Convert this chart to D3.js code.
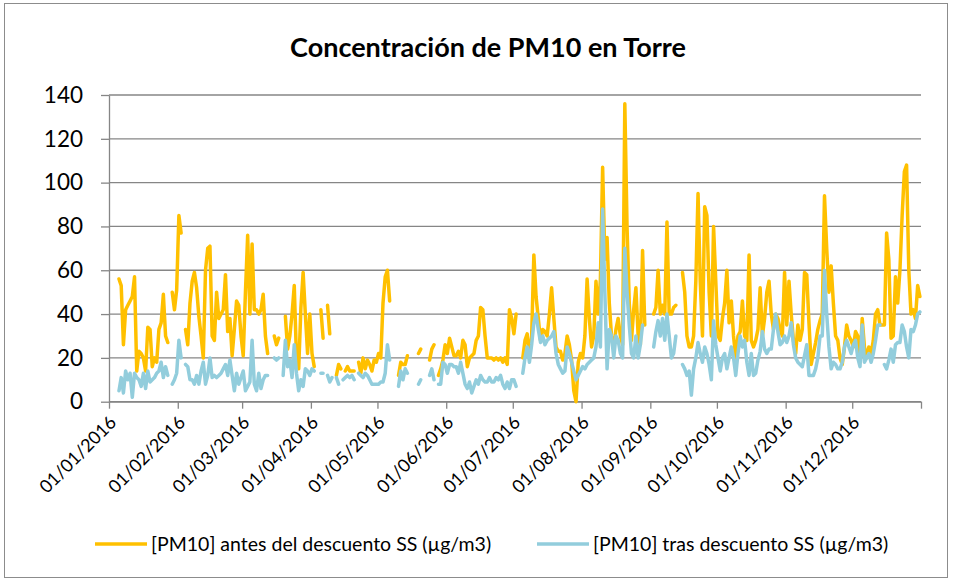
<!DOCTYPE html>
<html>
<head>
<meta charset="utf-8">
<script src="https://cdn.jsdelivr.net/npm/d3@7"></script>
<style>
  body { margin: 0; background: #fff; }
  svg { display: block; }
  text { font-family: Lato, "Open Sans", sans-serif; fill: #000; }
</style>
</head>
<body>
<svg id="chart" width="955" height="581"></svg>
<script>
// Daily PM10 concentration at Torre station, 2016 (µg/m3); null = no data that day
const chartTitle = "Concentración de PM10 en Torre";
const seriesNames = ["[PM10] antes del descuento SS (µg/m3)", "[PM10] tras descuento SS (µg/m3)"];
const seriesColors = ["#FFC000", "#92CDDC"];
const yTickValues = [0, 20, 40, 60, 80, 100, 120, 140];
const monthLabels = ["01/01/2016", "01/02/2016", "01/03/2016", "01/04/2016", "01/05/2016", "01/06/2016",
                     "01/07/2016", "01/08/2016", "01/09/2016", "01/10/2016", "01/11/2016", "01/12/2016"];

// [PM10] before the sea-salt discount
const pm10Antes = [
  // Jan
  null, null, null, null, 56, 53, 26, 42, 44, 46, 48, 57, 14, 23, 22, 20, 14, 34, 33, 16, 20, 18, 33, 36, 49, 30, 27, null, 50, 42, 51,
  // Feb
  85, 77, null, 33, 26, 45, 55, 59, 52, 39, 30, 20, 60, 70, 71, 30, 28, 50, 38, 40, 42, 58, 32, 38, 21, 33, 46, 44, 30,
  // Mar
  21, 50, 76, 40, 72, 42, 42, 40, 42, 49, 30, 22, null, null, 30, 26, 29, null, null, 39, 24, 30, 40, 53, 20, 15, 43, 59, 40, 22, 40,
  // Apr
  22, 16, null, null, 42, 29, null, 44, 31, null, null, 12, 17, 15, null, 14, 16, 14, 14, 14, null, 18, 13, 20, 15, 19, 17, 14, 19, 18,
  // May
  22, 20, 45, 57, 60, 46, null, null, null, 12, 18, 17, 17, 21, null, null, null, null, 22, 24, null, null, null, 19, 24, 26, null, 12, 15, 19, 26,
  // Jun
  22, 29, 25, 21, 21, 23, 20, 28, 26, 16, 20, 21, 22, 28, 30, 43, 42, 30, 20, 20, 20, 19, 20, 19, 20, 18, 20, 17, 42, 38,
  // Jul
  31, 40, null, null, 20, 28, 31, 20, 30, 67, 48, 38, 28, 33, 32, 30, 40, 52, 38, 25, 23, 23, 19, 22, 30, 26, 19, 5, 0, 18, 22,
  // Aug
  20, 30, 56, 38, 25, 30, 55, 40, 56, 107, 65, 75, 45, 30, 24, 33, 38, 30, 26, 136, 80, 45, 28, 42, 52, 30, 26, 69, 35, null, null,
  // Sep
  null, 40, 43, 60, 40, 44, 40, 82, 40, 40, 43, 44, null, null, 59, 50, 30, 25, 25, 30, 55, 95, 55, 30, 89, 85, 50, 30, 80, 55,
  // Oct
  30, 28, 38, 45, 60, 36, 46, 30, 20, 30, 32, 46, 30, 28, 67, 28, 25, 28, 33, 52, 30, 38, 50, 55, 40, 33, 40, 38, 33, 30, 59,
  // Nov
  35, 55, 40, 28, 22, 35, 28, 33, 59, 58, 36, 17, 22, 27, 33, 37, 40, 94, 70, 50, 62, 45, 30, 28, 20, 17, 25, 35, 30, 28,
  // Dec
  25, 32, 30, 18, 38, 25, 20, 25, 22, 28, 40, 42, 35, 35, 35, 77, 65, 29, 30, 57, 45, 60, 85, 105, 108, 60, 40, 42, 38, 53, 48
];

// [PM10] after the sea-salt discount
const pm10Tras = [
  // Jan
  null, null, null, null, 5, 11, 4, 14, 10, 13, 2, 13, 11, 10, 7, 13, 6, 14, 9, 10, 11, 13, 14, 18, 11, 16, 12, null, 8, 10, 13,
  // Feb
  28, 20, null, 17, 16, 10, 10, 8, 12, 8, 14, 18, 8, 12, 20, 11, 12, 11, 12, 13, 15, 17, 12, 19, 12, 5, 13, 8, 11,
  // Mar
  14, 5, 7, 9, 28, 8, 5, 13, 6, 10, 12, 12, null, null, 20, 19, 20, null, 12, 28, 16, 19, 11, 26, 13, 5, 10, 7, 15, 14, 12,
  // Apr
  15, 14, null, null, 13, 13, null, 12, 9, 11, null, 11, 8, null, 10, 11, 12, 11, 12, 10, null, 13, 12, 11, 13, 12, 10, 8, 8, 8,
  // May
  8, 9, 9, 13, 26, 19, null, null, null, 7, 14, 10, 15, 13, null, null, null, null, 8, 10, null, null, null, 12, 15, 10, null, 8, 8, 18, 17,
  // Jun
  13, 17, 17, 16, 16, 13, 18, 13, 8, 6, 9, 4, 7, 10, 8, 12, 10, 9, 9, 11, 9, 9, 11, 10, 12, 8, 6, 9, 6, 10,
  // Jul
  10, 7, null, null, 13, 20, 25, 18, 26, 36, 40, 33, 27, 30, 26, 28, 29, 30, 32, 22, 17, 15, 13, 14, 25, 22, 18, 14, 10, 12, 14,
  // Aug
  16, 15, 17, 18, 19, 20, 25, 36, 25, 88, 50, 15, 33, 30, 20, 30, 28, 22, 20, 70, 50, 35, 22, 20, 30, 20, 26, 35, null, null, null,
  // Sep
  null, 25, 32, 37, 30, 38, 28, 40, 30, 20, 22, 30, null, null, 17, 15, 12, 14, 3, 15, 20, 27, 22, 18, 25, 22, 17, 10, 37, 26,
  // Oct
  20, 14, 20, 22, 15, 20, 25, 20, 12, 22, 30, 25, 28, 18, 12, 22, 12, 13, 19, 23, 32, 24, 22, 24, 24, 33, 40, 32, 26, 27, 30,
  // Nov
  27, 30, 36, 26, 20, 18, 17, 16, 21, 26, 12, 12, 12, 15, 20, 30, 30, 60, 40, 25, 15, 18, 17, 15, 15, 18, 25, 28, 25, 22,
  // Dec
  26, 28, 20, 16, 35, 18, 20, 22, 18, 22, 28, 35, 35, null, 17, 15, 19, 24, 18, 26, 27, 27, 35, 32, 25, 20, 33, 32, 35, 40, 41
];

const svg = d3.select("#chart");

// outer chart frame
svg.append("rect")
  .attr("x", 4.5).attr("y", 3.5).attr("width", 943).attr("height", 574)
  .attr("fill", "#fff").attr("stroke", "#8c8c8c").attr("stroke-width", 1);

const plot = { left: 109, right: 921, top: 95, bottom: 401.7 };

const x = d3.scaleTime()
  .domain([new Date(2016, 0, 1), new Date(2017, 0, 1)])
  .range([plot.left, plot.right]);
const y = d3.scaleLinear().domain([0, 140]).range([plot.bottom, plot.top]);

// each reading sits in the middle of its day
const dayDate = i => new Date(2016, 0, 1 + i, 12);

// horizontal gridlines
svg.append("g")
  .selectAll("line")
  .data(yTickValues)
  .join("line")
  .attr("x1", plot.left).attr("x2", plot.right)
  .attr("y1", d => y(d)).attr("y2", d => y(d))
  .attr("stroke", "#868686").attr("stroke-width", 1.3);

// y axis
const yAxis = svg.append("g")
  .attr("transform", `translate(${plot.left},0)`)
  .call(d3.axisLeft(y).tickValues(yTickValues).tickSize(8).tickSizeOuter(0).tickPadding(18));
yAxis.select(".domain").attr("stroke", "#868686").attr("stroke-width", 1.3);
yAxis.selectAll(".tick line").attr("stroke", "#868686").attr("stroke-width", 1.3);
yAxis.selectAll(".tick text").style("font-size", "22.5px").attr("fill", "#000");

// x axis: month ticks plus year end
const monthDates = d3.range(13).map(m => new Date(2016, m, 1));
const xAxis = svg.append("g")
  .attr("transform", `translate(0,${plot.bottom})`)
  .call(d3.axisBottom(x).tickValues(monthDates).tickSize(7).tickSizeOuter(0)
    .tickFormat((d, i) => monthLabels[i] || ""));
xAxis.select(".domain").attr("stroke", "#868686").attr("stroke-width", 1.3);
xAxis.selectAll(".tick line").attr("stroke", "#868686").attr("stroke-width", 1.3);
xAxis.selectAll(".tick text")
  .style("font-size", "18px")
  .attr("fill", "#000")
  .attr("text-anchor", "end")
  .attr("dy", null)
  .attr("y", 0)
  .attr("transform", "translate(8,22) rotate(-45)");

// series lines
const line = d3.line()
  .defined(d => d.v !== null)
  .x(d => x(d.date))
  .y(d => y(d.v));

[pm10Antes, pm10Tras].forEach((vals, k) => {
  const pts = vals.map((v, i) => ({ date: dayDate(i), v }));
  svg.append("path")
    .datum(pts)
    .attr("fill", "none")
    .attr("stroke", seriesColors[k])
    .attr("stroke-width", 3.5)
    .attr("stroke-linejoin", "round")
    .attr("stroke-linecap", "round")
    .attr("d", line);
});

// title
svg.append("text")
  .attr("x", 488).attr("y", 57)
  .attr("text-anchor", "middle")
  .style("font-size", "27px").style("font-weight", "bold")
  .text(chartTitle);

// legend
const legendItems = [{ x: 95, name: seriesNames[0], color: seriesColors[0] },
                     { x: 537, name: seriesNames[1], color: seriesColors[1] }];
const lg = svg.append("g").selectAll("g").data(legendItems).join("g")
  .attr("transform", d => `translate(${d.x},544)`);
lg.append("line")
  .attr("x1", 0).attr("x2", 52).attr("y1", 0).attr("y2", 0)
  .attr("stroke", d => d.color).attr("stroke-width", 3.5);
lg.append("text")
  .attr("x", 56).attr("y", 7)
  .style("font-size", "19.5px")
  .text(d => d.name);
</script>
</body>
</html>
